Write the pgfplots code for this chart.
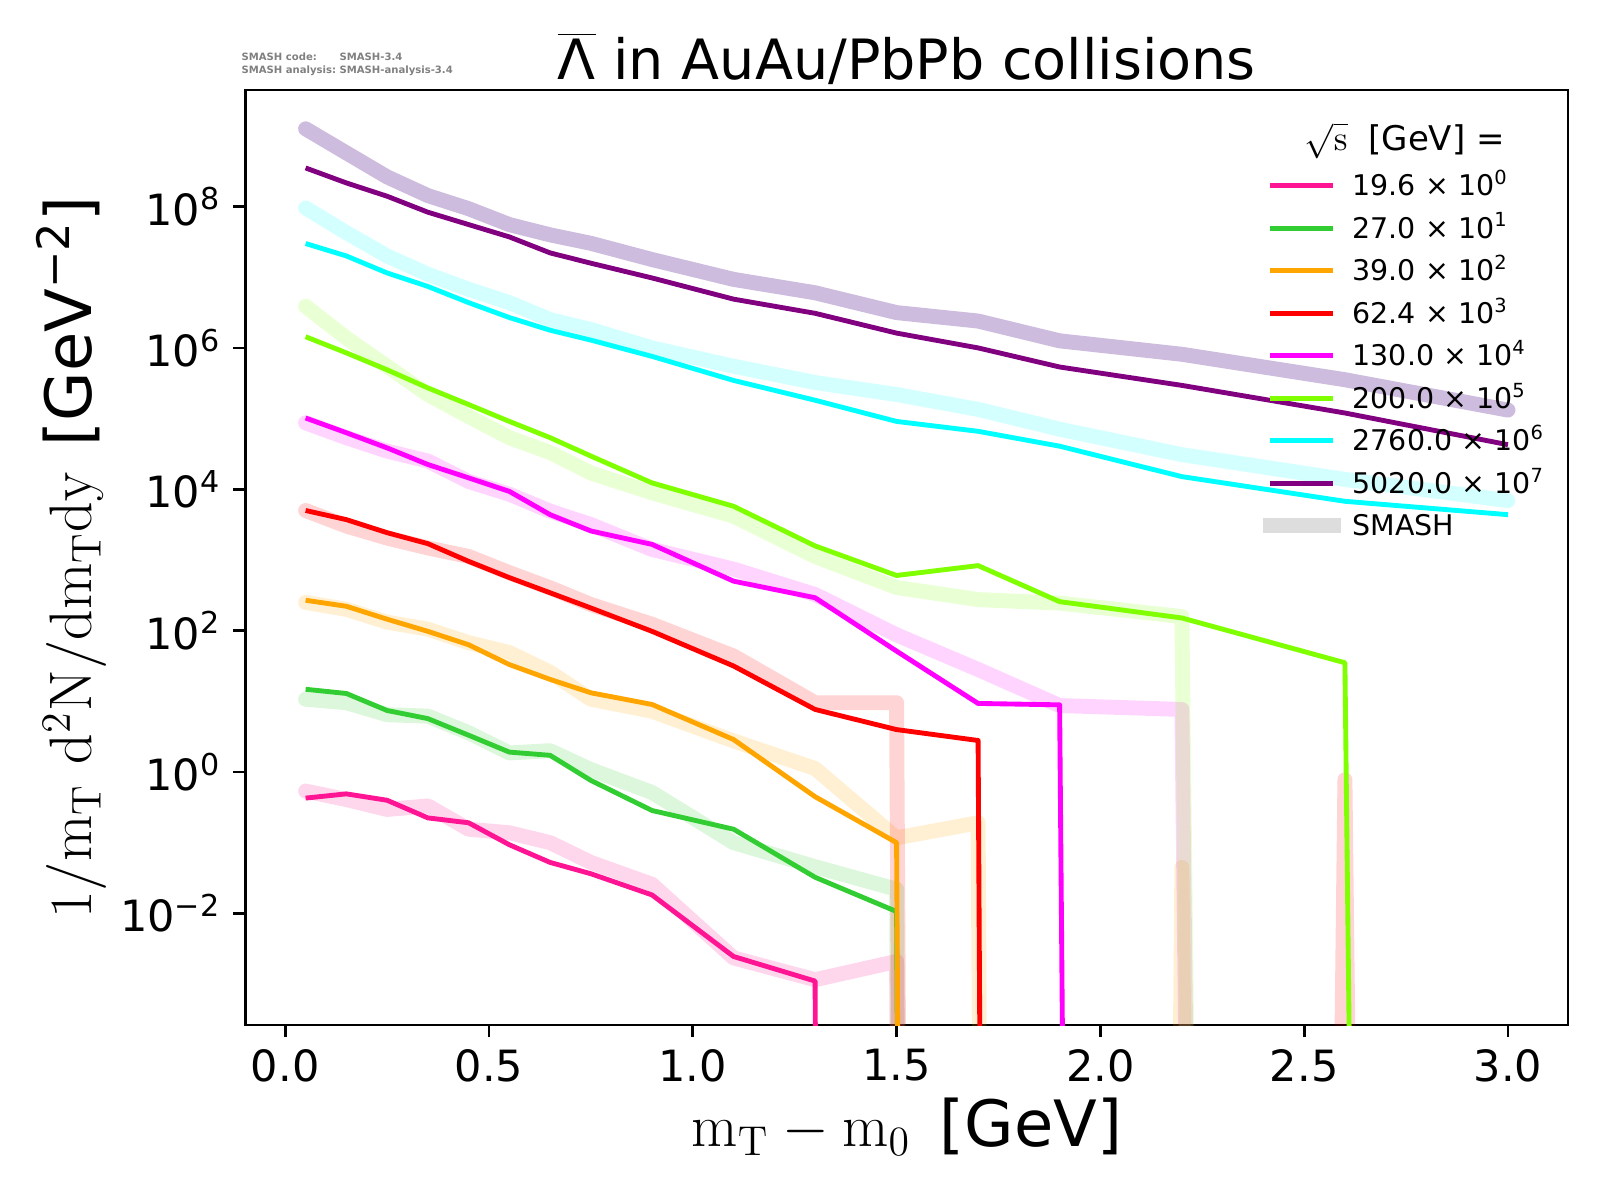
\documentclass[border=0pt]{standalone}
\usepackage[no-math]{fontspec}
\setmainfont{DejaVu Sans}
\usepackage{pgfplots}
\pgfplotsset{compat=1.18}
\definecolor{cpink}{HTML}{FF1493}
\definecolor{cgreen}{HTML}{32CD32}
\definecolor{corange}{HTML}{FFA500}
\definecolor{cred}{HTML}{FF0000}
\definecolor{cmag}{HTML}{FF00FF}
\definecolor{clime}{HTML}{7FFF00}
\definecolor{ccyan}{HTML}{00FFFF}
\definecolor{cpurp}{HTML}{800080}
\definecolor{spurp}{HTML}{663399}
\definecolor{sgrey}{HTML}{DDDDDD}
\newcommand{\sups}[1]{\raisebox{3.2pt}{\fontsize{5.6}{6}\selectfont #1}}
\begin{document}
\begin{tikzpicture}
\useasboundingbox (0,0) rectangle (460.8pt,345.6pt);
\node[anchor=north west, inner sep=0pt, text=gray, font=\fontsize{2.9}{3.9}\selectfont\bfseries] at (69.4pt,331.2pt)
  {\begin{tabular}{@{}l@{~}l@{}}SMASH code: & SMASH-3.4\\ SMASH analysis: & SMASH-analysis-3.4\end{tabular}};
\begin{axis}[
  at={(70.7pt,50.4pt)}, anchor=south west, scale only axis,
  width=380.9pt, height=269.3pt,
  xmin=-0.0975, xmax=3.1475,
  ymode=log, ymin=2.63e-4, ymax=4.47e9,
  axis line style={line width=0.8pt},
  tick pos=left, tick align=outside,
  major tick length=3.5pt,
  every tick/.style={black, line width=0.8pt},
  xminorticks=false, yminorticks=false,
  xtick={0,0.5,1,1.5,2,2.5,3},
  xticklabels={0.0,0.5,1.0,1.5,2.0,2.5,3.0},
  ytick={1e-2,1,1e2,1e4,1e6,1e8},
  yticklabels={10\textsuperscript{−2},10\textsuperscript{0},10\textsuperscript{2},10\textsuperscript{4},10\textsuperscript{6},10\textsuperscript{8}},
  ticklabel style={font=\fontsize{12.4}{14.8}\selectfont},
  xlabel={$\mathrm{m_T - m_0}$\hspace{2.5pt} [GeV]},
  ylabel={$1/\mathrm{m_T}\ \mathrm{d^2N/dm_Tdy}$\hspace{1.5pt} [GeV\textsuperscript{−2}]},
  xlabel style={font=\fontsize{18.4}{21.5}\selectfont, at={(axis description cs:0.5,-0.1092)}, anchor=center},
  ylabel style={font=\fontsize{18.4}{21.5}\selectfont, at={(axis description cs:-0.1315,0.5)}, anchor=center},
  title={$\overline{\mbox{Λ}}$ in AuAu/PbPb collisions},
  title style={font=\fontsize{16}{19}\selectfont, inner sep=0pt, at={(axis description cs:0.5,1)}, anchor=base, yshift=-3.1pt},
  legend style={at={(axis description cs:0.7693,0.9142)}, anchor=north west, draw=none, fill=none,
    inner sep=0pt, outer sep=0pt, row sep=3.43pt, font=\fontsize{8.2}{9.6}\selectfont,
    nodes={inner sep=0pt},
    /tikz/every odd column/.append style={column sep=3.5pt}},
  legend cell align=left,
  legend image code/.code={\draw[#1] (0pt,0pt) -- (18.05pt,0pt);},
  smash/.style={line width=4.3pt, line join=round, line cap=round, draw opacity=0.17, mark=none},
  expl/.style={line width=1.4pt, line join=round, mark=none},
]
% SMASH curves
\addplot[smash, color=cpink, forget plot] coordinates {(0.05,0.537)(0.15,0.407)(0.25,0.295)(0.35,0.331)(0.45,0.155)(0.55,0.138)(0.65,0.1)(0.75,0.0525)(0.9,0.0257)(1.1,2.34e-3)(1.3,1.15e-3)(1.5,2.09e-3)(1.7,1e-200)};
\addplot[smash, color=cgreen, forget plot] coordinates {(0.05,10.7)(0.15,9.55)(0.25,6.46)(0.35,6.17)(0.45,3.59)(0.55,1.86)(0.65,2.00)(0.75,1.08)(0.9,0.513)(1.1,0.1)(1.3,0.0457)(1.5,0.0219)(1.7,1e-200)};
\addplot[smash, color=corange, forget plot] coordinates {(0.05,251)(0.15,200)(0.25,132)(0.35,105)(0.45,67.6)(0.55,49.0)(0.65,25.7)(0.75,10.7)(0.9,7.24)(1.1,2.75)(1.3,1.12)(1.5,0.117)(1.7,0.191)(1.9,1e-200)(2.2,0.0447)(2.6,1e-200)};
\addplot[smash, color=cred, forget plot] coordinates {(0.05,5010)(0.15,3020)(0.25,2040)(0.35,1480)(0.45,1120)(0.55,661)(0.65,403)(0.75,234)(0.9,123)(1.1,43.7)(1.3,9.55)(1.5,9.55)(1.7,1e-200)(1.9,1e-200)(2.2,1e-200)(2.6,0.776)(3.0,1e-200)};
\addplot[smash, color=cmag, forget plot] coordinates {(0.05,8.71e4)(0.15,5.37e4)(0.25,3.47e4)(0.35,2.51e4)(0.45,1.29e4)(0.55,8510)(0.65,4900)(0.75,3160)(0.9,1410)(1.1,741)(1.3,324)(1.5,87.1)(1.7,28.2)(1.9,8.71)(2.2,7.67)(2.6,1e-200)};
\addplot[smash, color=clime, forget plot] coordinates {(0.05,3.89e6)(0.15,1.38e6)(0.25,5.50e5)(0.35,2.19e5)(0.45,1.07e5)(0.55,5.37e4)(0.65,3.31e4)(0.75,1.70e4)(0.9,8910)(1.1,4170)(1.3,1120)(1.5,407)(1.7,275)(1.9,245)(2.2,158)(2.6,1e-200)};
\addplot[smash, color=ccyan, forget plot] coordinates {(0.05,9.55e7)(0.15,4.27e7)(0.25,2.00e7)(0.35,1.10e7)(0.45,6.76e6)(0.55,4.37e6)(0.65,2.51e6)(0.75,1.82e6)(0.9,1.00e6)(1.1,5.50e5)(1.3,3.24e5)(1.5,2.19e5)(1.7,1.35e5)(1.9,7.08e4)(2.2,3.09e4)(2.6,1.38e4)(3.0,6920)};
\addplot[smash, color=spurp, draw opacity=0.33, forget plot] coordinates {(0.05,1.26e9)(0.15,5.75e8)(0.25,2.63e8)(0.35,1.43e8)(0.45,9.33e7)(0.55,5.56e7)(0.65,3.98e7)(0.75,3.02e7)(0.9,1.78e7)(1.1,9.33e6)(1.3,6.03e6)(1.5,3.16e6)(1.7,2.40e6)(1.9,1.26e6)(2.2,8.13e5)(2.6,3.55e5)(3.0,1.32e5)};
% measured curves
\addplot[expl, color=cpink] coordinates {(0.05,0.427)(0.15,0.490)(0.25,0.398)(0.35,0.224)(0.45,0.191)(0.55,0.0933)(0.65,0.0525)(0.75,0.0363)(0.9,0.0182)(1.1,2.45e-3)(1.3,1.10e-3)(1.5,1e-200)};
\addlegendentry{19.6 × 10\sups{0}}
\addplot[expl, color=cgreen] coordinates {(0.05,14.8)(0.15,12.9)(0.25,7.41)(0.35,5.69)(0.45,3.31)(0.55,1.91)(0.65,1.72)(0.75,0.759)(0.9,0.285)(1.1,0.155)(1.3,0.0324)(1.5,0.0106)(1.7,1e-200)};
\addlegendentry{27.0 × 10\sups{1}}
\addplot[expl, color=corange] coordinates {(0.05,269)(0.15,221)(0.25,145)(0.35,97.7)(0.45,63.1)(0.55,33.1)(0.65,20.4)(0.75,13.2)(0.9,9.02)(1.1,2.88)(1.3,0.447)(1.5,0.1)(1.7,1e-200)};
\addlegendentry{39.0 × 10\sups{2}}
\addplot[expl, color=cred] coordinates {(0.05,5010)(0.15,3720)(0.25,2430)(0.35,1700)(0.45,955)(0.55,562)(0.65,343)(0.75,209)(0.9,97.7)(1.1,31.6)(1.3,7.67)(1.5,3.98)(1.7,2.79)(1.9,1e-200)};
\addlegendentry{62.4 × 10\sups{3}}
\addplot[expl, color=cmag] coordinates {(0.05,1.02e5)(0.15,6.31e4)(0.25,3.85e4)(0.35,2.24e4)(0.45,1.45e4)(0.55,9330)(0.65,4370)(0.75,2570)(0.9,1660)(1.1,501)(1.3,292)(1.5,51.3)(1.7,9.33)(1.9,8.91)(2.2,1e-200)};
\addlegendentry{130.0 × 10\sups{4}}
\addplot[expl, color=clime] coordinates {(0.05,1.44e6)(0.15,8.51e5)(0.25,4.90e5)(0.35,2.72e5)(0.45,1.58e5)(0.55,9.12e4)(0.65,5.37e4)(0.75,2.95e4)(0.9,1.23e4)(1.1,5750)(1.3,1580)(1.5,603)(1.7,832)(1.9,257)(2.2,151)(2.6,35.1)(3.0,1e-200)};
\addlegendentry{200.0 × 10\sups{5}}
\addplot[expl, color=ccyan] coordinates {(0.05,3.00e7)(0.15,2.00e7)(0.25,1.15e7)(0.35,7.41e6)(0.45,4.37e6)(0.55,2.69e6)(0.65,1.78e6)(0.75,1.29e6)(0.9,7.59e5)(1.1,3.47e5)(1.3,1.82e5)(1.5,9.12e4)(1.7,6.61e4)(1.9,4.07e4)(2.2,1.51e4)(2.6,6760)(3.0,4370)};
\addlegendentry{2760.0 × 10\sups{6}}
\addplot[expl, color=cpurp] coordinates {(0.05,3.52e8)(0.15,2.16e8)(0.25,1.40e8)(0.35,8.32e7)(0.45,5.56e7)(0.55,3.72e7)(0.65,2.21e7)(0.75,1.58e7)(0.9,9.77e6)(1.1,4.90e6)(1.3,3.09e6)(1.5,1.62e6)(1.7,1.00e6)(1.9,5.37e5)(2.2,2.95e5)(2.6,1.20e5)(3.0,4.27e4)};
\addlegendentry{5020.0 × 10\sups{7}}
\addlegendimage{color=sgrey, line width=4.3pt, line cap=rect}
\addlegendentry{SMASH\rule{0pt}{7.3pt}}
\node[anchor=center, inner sep=0pt, font=\fontsize{9.8}{11.5}\selectfont] at (axis description cs:0.8766,0.946) {$\sqrt{\mathrm{s}}$\hspace{6pt}[GeV] =};
\end{axis}
\end{tikzpicture}
\end{document}
